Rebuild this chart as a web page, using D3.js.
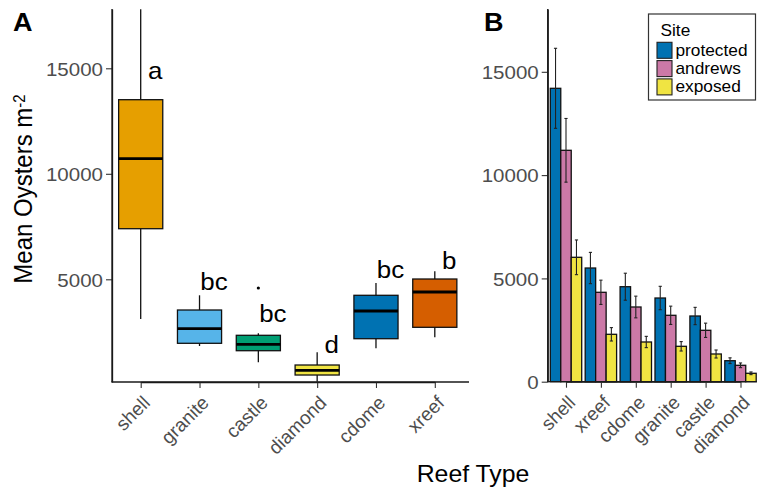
<!DOCTYPE html>
<html>
<head>
<meta charset="utf-8">
<script src="https://cdn.jsdelivr.net/npm/d3@7"></script>
<style>
  body { margin: 0; background: #fff; }
  svg { display: block; font-family: "Liberation Sans", Arial, sans-serif; }
</style>
</head>
<body>
<svg id="chart" width="757" height="490"></svg>
<script>
// panel A: boxplot per reef type
var reefA = ["shell", "granite", "castle", "diamond", "cdome", "xreef"];
var whiskerLo = [3118, 1839, 1066, 147, 1730, 2251];
var q1 = [7398, 1967, 1616, 464, 2185, 2725];
var median = [10716, 2659, 1919, 687, 3498, 4398];
var q3 = [13512, 3545, 2346, 938, 4242, 5014];
var whiskerHi = [17800, 4242, 2441, 1540, 4825, 5379];
var outlierReef = ["castle"];
var outlierVal = [4588];
var letters = ["a", "bc", "bc", "d", "bc", "b"];
var letterVal = [14493, 4493, 2990, 1507, 5062, 5488];
var boxColors = ["#E69F00", "#56B4E9", "#009E73", "#F0E442", "#0072B2", "#D55E00"];

// panel B: mean +- error by site
var reefB = ["shell", "xreef", "cdome", "granite", "castle", "diamond"];
var sites = ["protected", "andrews", "exposed"];
var protectedMean = [14201, 5503, 4598, 4051, 3180, 1016];
var protectedErr = [1937, 757, 653, 566, 419, 138];
var andrewsMean = [11200, 4327, 3616, 3214, 2488, 794];
var andrewsErr = [1541, 588, 525, 443, 346, 113];
var exposedMean = [6021, 2294, 1922, 1713, 1341, 407];
var exposedErr = [840, 324, 273, 228, 194, 65];
var siteColors = ["#0072B2", "#CC79A7", "#F0E442"];
var yTicks = [0, 5000, 10000, 15000];

var SX = 1.08; // the reference text is a bit wide
var svg = d3.select("#chart");

function styleYAxis(g) {
    g.select(".domain").attr("stroke", "#1a1a1a").attr("stroke-width", 1.3);
    g.selectAll(".tick line").attr("stroke", "#333").attr("stroke-width", 1.1);
    g.selectAll(".tick text")
        .attr("x", 0).attr("dy", "0.36em")
        .attr("transform", "translate(-9,0) scale(" + SX + ",1)")
        .attr("fill", "#4D4D4D").style("font-size", "19px")
        .style("font-family", "Liberation Sans, Arial, sans-serif");
}
function styleXAxis(g) {
    g.select(".domain").attr("stroke", "#1a1a1a").attr("stroke-width", 1.3);
    g.selectAll(".tick line").attr("stroke", "#333").attr("stroke-width", 1.1);
    g.selectAll(".tick text")
        .attr("x", 0).attr("y", 0).attr("dy", "0.75em")
        .attr("text-anchor", "end")
        .attr("transform", "translate(0,12) rotate(-45)")
        .attr("fill", "#4D4D4D").style("font-size", "19px")
        .style("font-family", "Liberation Sans, Arial, sans-serif");
}
function label(x, y, str, size, weight, anchor) {
    return svg.append("text")
        .attr("transform", "translate(" + x + "," + y + ") scale(" + SX + ",1)")
        .attr("text-anchor", anchor || "start")
        .style("font-size", size + "px")
        .style("font-weight", weight || "normal")
        .text(str);
}

// ---------- panel A ----------
var xA = d3.scalePoint().domain(reefA).range([140.7, 434.8]);
var yA = d3.scaleLinear().domain([133, 17810]).range([382, 9]);
var stepA = xA.step(), boxW = stepA * 0.75;

var gA = svg.append("g");
reefA.forEach(function (r, i) {
    var cx = xA(r);
    gA.append("line").attr("x1", cx).attr("x2", cx)
        .attr("y1", yA(whiskerLo[i])).attr("y2", yA(whiskerHi[i]))
        .attr("stroke", "#111").attr("stroke-width", 1.3);
    gA.append("rect")
        .attr("x", cx - boxW / 2).attr("width", boxW)
        .attr("y", yA(q3[i])).attr("height", yA(q1[i]) - yA(q3[i]))
        .attr("fill", boxColors[i]).attr("stroke", "#111").attr("stroke-width", 1.3);
    gA.append("line").attr("x1", cx - boxW / 2).attr("x2", cx + boxW / 2)
        .attr("y1", yA(median[i])).attr("y2", yA(median[i]))
        .attr("stroke", "#000").attr("stroke-width", 2.8);
    gA.append("text")
        .attr("transform", "translate(" + (cx + 14.5) + "," + yA(letterVal[i]) + ") scale(" + SX + ",1)")
        .attr("text-anchor", "middle").style("font-size", "24px")
        .text(letters[i]);
});
outlierReef.forEach(function (r, i) {
    gA.append("circle").attr("cx", xA(r)).attr("cy", yA(outlierVal[i])).attr("r", 1.6).attr("fill", "#000");
});

svg.append("g").attr("transform", "translate(112,0)")
    .call(d3.axisLeft(yA).tickValues(yTicks.slice(1)).tickSize(6).tickSizeOuter(0).tickFormat(d3.format("d")))
    .call(styleYAxis);
svg.append("line").attr("x1", 112).attr("x2", 112).attr("y1", 9).attr("y2", 382)
    .attr("stroke", "#1a1a1a").attr("stroke-width", 1.3);
svg.append("g").attr("transform", "translate(0,382)")
    .call(d3.axisBottom(xA).tickSize(6).tickSizeOuter(0))
    .call(styleXAxis);
svg.append("line").attr("x1", 111.4).attr("x2", 469).attr("y1", 382).attr("y2", 382)
    .attr("stroke", "#1a1a1a").attr("stroke-width", 1.3);

// y title
var yt = svg.append("text")
    .attr("transform", "translate(32,189) scale(" + SX + ",1) rotate(-90)")
    .attr("text-anchor", "middle").style("font-size", "24px");
yt.append("tspan").text("Mean Oysters m");
yt.append("tspan").attr("dy", "-0.45em").style("font-size", "15px").text("-2");

label(473, 482, "Reef Type", 23, "normal", "middle");
label(13, 31, "A", 25, "bold");
label(484, 31, "B", 25, "bold");

// ---------- panel B ----------
var xB = d3.scalePoint().domain(reefB).range([566, 740.5]);
var stepB = xB.step();
var xSite = d3.scaleBand().domain(sites).range([-0.45 * stepB, 0.45 * stepB]);
var yB = d3.scaleLinear().domain([0, 18040]).range([381.7, 9]);
var means = [protectedMean, andrewsMean, exposedMean];
var errs = [protectedErr, andrewsErr, exposedErr];

var gB = svg.append("g");
sites.forEach(function (s, j) {
    reefB.forEach(function (r, i) {
        var x0 = xB(r) + xSite(s);
        gB.append("rect")
            .attr("x", x0).attr("width", xSite.bandwidth())
            .attr("y", yB(means[j][i])).attr("height", yB(0) - yB(means[j][i]))
            .attr("fill", siteColors[j]).attr("stroke", "#111").attr("stroke-width", 1.3);
    });
});
sites.forEach(function (s, j) {
    reefB.forEach(function (r, i) {
        var cx = xB(r) + xSite(s) + xSite.bandwidth() / 2;
        var hi = yB(means[j][i] + errs[j][i]), lo = yB(means[j][i] - errs[j][i]);
        gB.append("line").attr("x1", cx).attr("x2", cx).attr("y1", hi).attr("y2", lo)
            .attr("stroke", "#222").attr("stroke-width", 1.1);
        [hi, lo].forEach(function (yy) {
            gB.append("line").attr("x1", cx - 1.6).attr("x2", cx + 1.6).attr("y1", yy).attr("y2", yy)
                .attr("stroke", "#222").attr("stroke-width", 1.1);
        });
    });
});

svg.append("g").attr("transform", "translate(547.7,0)")
    .call(d3.axisLeft(yB).tickValues(yTicks).tickSize(6).tickSizeOuter(0).tickFormat(d3.format("d")))
    .call(styleYAxis);
svg.append("line").attr("x1", 547.7).attr("x2", 547.7).attr("y1", 9).attr("y2", 382)
    .attr("stroke", "#1a1a1a").attr("stroke-width", 1.3);
svg.append("g").attr("transform", "translate(0,381.7)")
    .call(d3.axisBottom(xB).tickSize(6).tickSizeOuter(0))
    .call(styleXAxis);
svg.append("line").attr("x1", 547).attr("x2", 757).attr("y1", 381.7).attr("y2", 381.7)
    .attr("stroke", "#1a1a1a").attr("stroke-width", 1.3);

// legend
var lg = svg.append("g");
lg.append("rect").attr("x", 648.5).attr("y", 14).attr("width", 107).attr("height", 86)
    .attr("fill", "#fff").attr("stroke", "#333").attr("stroke-width", 1.2);
label(660.5, 36, "Site", 16);
sites.forEach(function (s, j) {
    var y0 = 42.3 + j * 18.3;
    lg.append("rect").attr("x", 657).attr("y", y0).attr("width", 15).attr("height", 16)
        .attr("fill", siteColors[j]).attr("stroke", "#222").attr("stroke-width", 1.1);
    label(675.5, y0 + 13.3, s, 16);
});
</script>
</body>
</html>
